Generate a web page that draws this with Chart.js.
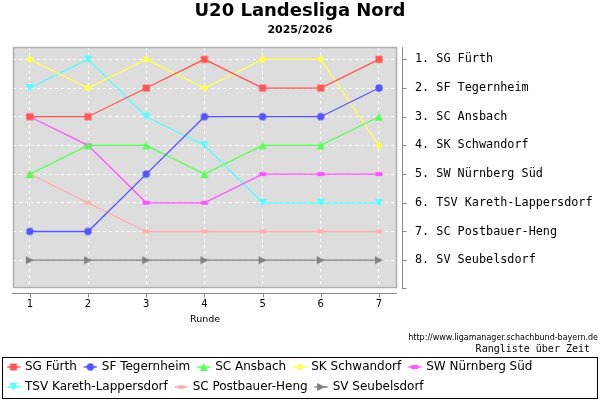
<!DOCTYPE html>
<html lang="de">
<head>
<meta charset="UTF-8">
<title>U20 Landesliga Nord</title>
<script src="https://cdn.jsdelivr.net/npm/chart.js@4.4.1/dist/chart.umd.min.js"></script>
<style>
  body { margin: 0; background: #fff; }
  #chart { display: block; }
</style>
</head>
<body>
<canvas id="chart" width="600" height="400"></canvas>
<script>
// Runden und Platzierungen pro Runde
const rounds = [1, 2, 3, 4, 5, 6, 7];
const teams = ['SG Fürth', 'SF Tegernheim', 'SC Ansbach', 'SK Schwandorf',
               'SW Nürnberg Süd', 'TSV Kareth-Lappersdorf', 'SC Postbauer-Heng', 'SV Seubelsdorf'];

const rankSGFuerth      = [3, 3, 2, 1, 2, 2, 1];
const rankSFTegernheim  = [7, 7, 5, 3, 3, 3, 2];
const rankSCAnsbach     = [5, 4, 4, 5, 4, 4, 3];
const rankSKSchwandorf  = [1, 2, 1, 2, 1, 1, 4];
const rankSWNuernberg   = [3, 4, 6, 6, 5, 5, 5];
const rankTSVKareth     = [2, 1, 3, 4, 6, 6, 6];
const rankSCPostbauer   = [5, 6, 7, 7, 7, 7, 7];
const rankSVSeubelsdorf = [8, 8, 8, 8, 8, 8, 8];

// Tabellenstand nach der letzten Runde (rechte Achse)
const finalTable = ['SG Fürth', 'SF Tegernheim', 'SC Ansbach', 'SK Schwandorf',
                    'SW Nürnberg Süd', 'TSV Kareth-Lappersdorf', 'SC Postbauer-Heng', 'SV Seubelsdorf'];

const history = [rankSGFuerth, rankSFTegernheim, rankSCAnsbach, rankSKSchwandorf,
                 rankSWNuernberg, rankTSVKareth, rankSCPostbauer, rankSVSeubelsdorf];

const colors = ['#ff5555', '#5555ff', '#55ff55', '#ffff55', '#ff55ff', '#55ffff', '#ffafaf', '#808080'];
const shapes = ['square', 'circle', 'up', 'diamond', 'hrect', 'down', 'hellipse', 'right'];

function drawShape(g, shape, cx, cy, d) {
    g.beginPath();
    switch (shape) {
        case 'square': g.rect(cx - d + 0.5, cy - d + 0.5, 2 * d - 1, 2 * d - 1); break;
        case 'circle': g.arc(cx, cy, d - 0.3, 0, Math.PI * 2); break;
        case 'up': g.moveTo(cx, cy - d); g.lineTo(cx + d, cy + d); g.lineTo(cx - d, cy + d); g.closePath(); break;
        case 'down': g.moveTo(cx, cy + d); g.lineTo(cx + d, cy - d); g.lineTo(cx - d, cy - d); g.closePath(); break;
        case 'diamond': g.moveTo(cx, cy - d); g.lineTo(cx + d, cy); g.lineTo(cx, cy + d); g.lineTo(cx - d, cy); g.closePath(); break;
        case 'hrect': g.rect(cx - d + 0.5, cy - d / 2, 2 * d - 1, d); break;
        case 'hellipse': g.ellipse(cx, cy, d - 0.3, d / 2, 0, 0, Math.PI * 2); break;
        case 'right': g.moveTo(cx - d, cy - d); g.lineTo(cx + d, cy); g.lineTo(cx - d, cy + d); g.closePath(); break;
    }
    g.fill();
}

function markerImage(i, withLine) {
    const c = document.createElement('canvas');
    c.width = withLine ? 14 : 10;
    c.height = 10;
    const g = c.getContext('2d');
    g.fillStyle = colors[i];
    g.strokeStyle = colors[i];
    if (withLine) {
        g.lineWidth = 1.5;
        g.beginPath();
        g.moveTo(0.5, 5);
        g.lineTo(13.5, 5);
        g.stroke();
    }
    drawShape(g, shapes[i], c.width / 2, 5, 4);
    return c;
}

const pointImgs = teams.map((_, i) => markerImage(i, false));
const legendImgs = teams.map((_, i) => markerImage(i, true));

const datasets = teams.map((name, i) => ({
    label: name,
    data: rounds.map((r, j) => ({ x: r, y: history[i][j] })),
    borderColor: colors[i],
    backgroundColor: colors[i],
    borderWidth: 1.3,
    pointStyle: pointImgs[i],
    pointRadius: 4,
    tension: 0,
    yAxisID: 'y'
}));

// Hintergrund, Rahmen, abgesetzte Achsen, Legendenrahmen und Fusszeilen
const decor = {
    id: 'decor',
    afterLayout(chart) {
        chart.legend.top += 3;
        chart.legend.bottom += 3;
    },
    beforeDraw(chart) {
        const ctx = chart.ctx, a = chart.chartArea;
        ctx.save();
        ctx.fillStyle = '#ffffff';
        ctx.fillRect(0, 0, chart.width, chart.height);
        ctx.fillStyle = '#dddddd';
        ctx.fillRect(a.left, a.top, a.right - a.left, a.bottom - a.top);
        ctx.restore();
    },
    beforeDatasetsDraw(chart) {
        const ctx = chart.ctx, a = chart.chartArea;
        ctx.save();
        ctx.strokeStyle = '#b0b0b0';
        ctx.lineWidth = 1.5;
        ctx.strokeRect(a.left + 0.5, a.top + 0.5, a.right - a.left - 1, a.bottom - a.top - 1);
        ctx.restore();
    },
    afterDraw(chart) {
        const ctx = chart.ctx, a = chart.chartArea;
        const xs = chart.scales.x, ys = chart.scales.y;
        const line = (x1, y1, x2, y2) => { ctx.beginPath(); ctx.moveTo(x1, y1); ctx.lineTo(x2, y2); ctx.stroke(); };
        ctx.save();
        ctx.strokeStyle = '#888888';
        ctx.lineWidth = 1;
        const ax = Math.round(a.right) + 5.5;
        line(ax, a.top, ax, a.bottom + 1);
        line(ax, a.bottom + 0.5, ax + 4, a.bottom + 0.5);
        ys.ticks.forEach(t => {
            const y = Math.round(ys.getPixelForValue(t.value)) + 0.5;
            line(ax, y, ax + 4, y);
        });
        const ay = Math.round(a.bottom) + 5.5;
        line(a.left - 1, ay, a.right, ay);
        xs.ticks.forEach(t => {
            const x = Math.round(xs.getPixelForValue(t.value)) + 0.5;
            line(x, ay, x, ay + 4);
        });

        const lg = chart.legend;
        ctx.strokeStyle = '#000000';
        ctx.strokeRect(lg.left + 2.5, lg.top + 4.5, lg.width - 5, lg.height - 9);

        ctx.fillStyle = '#000000';
        ctx.textAlign = 'right';
        ctx.textBaseline = 'middle';
        ctx.font = '8px "DejaVu Sans"';
        ctx.fillText('http://www.ligamanager.schachbund-bayern.de', chart.width - 2, 338);
        ctx.font = '10px "DejaVu Sans Mono"';
        ctx.fillText('Rangliste über Zeit', chart.width - 10, 349);
        ctx.restore();
    }
};

const config = {
    type: 'line',
    data: { datasets },
    plugins: [decor],
    options: {
        responsive: false,
        animation: false,
        layout: { padding: 0 },
        plugins: {
            title: {
                display: true,
                text: 'U20 Landesliga Nord',
                color: '#000',
                font: { family: 'DejaVu Sans', size: 18, weight: 'bold' },
                padding: { top: 1, bottom: 0 }
            },
            subtitle: {
                display: true,
                text: '2025/2026',
                color: '#000',
                font: { family: 'DejaVu Sans', size: 11, weight: 'bold' },
                padding: { top: 1, bottom: 10.2 }
            },
            legend: {
                position: 'bottom',
                align: 'start',
                labels: {
                    usePointStyle: true,
                    pointStyleWidth: 11,
                    padding: 8,
                    color: '#000',
                    font: { family: 'DejaVu Sans', size: 12 },
                    generateLabels: chart => chart.data.datasets.map((ds, i) => ({
                        text: ds.label,
                        pointStyle: legendImgs[i],
                        fillStyle: ds.borderColor,
                        strokeStyle: ds.borderColor,
                        lineWidth: 0,
                        hidden: false,
                        datasetIndex: i
                    }))
                }
            },
            tooltip: { enabled: false }
        },
        scales: {
            x: {
                type: 'linear',
                position: 'bottom',
                min: 0.71,
                max: 7.31,
                afterBuildTicks: s => { s.ticks = rounds.map(v => ({ value: v })); },
                afterFit: s => { s.height = 62; },
                ticks: { padding: 10, color: '#000', font: { family: 'DejaVu Sans', size: 10 } },
                grid: { color: '#ffffff', lineWidth: 1, drawTicks: false },
                border: { display: false, dash: [3, 3] },
                title: {
                    display: true,
                    text: 'Runde',
                    color: '#000',
                    font: { family: 'DejaVu Sans', size: 9.5 },
                    padding: { top: 0, bottom: 25 }
                }
            },
            y: {
                type: 'linear',
                position: 'right',
                reverse: true,
                min: 0.57,
                max: 8.97,
                afterBuildTicks: s => { s.ticks = finalTable.map((_, i) => ({ value: i + 1 })); },
                afterFit: s => { s.width = 203; },
                ticks: {
                    padding: 18,
                    color: '#000',
                    font: { family: 'DejaVu Sans Mono', size: 11.8 },
                    callback: v => v + '. ' + finalTable[v - 1]
                },
                grid: { color: '#ffffff', lineWidth: 1, drawTicks: false },
                border: { display: false, dash: [3, 3] }
            },
            yl: {
                position: 'left',
                display: true,
                afterFit: s => { s.width = 13; },
                ticks: { display: false },
                grid: { display: false },
                border: { display: false }
            }
        }
    }
};

const rankChart = new Chart(document.getElementById('chart'), config);
</script>
</body>
</html>
